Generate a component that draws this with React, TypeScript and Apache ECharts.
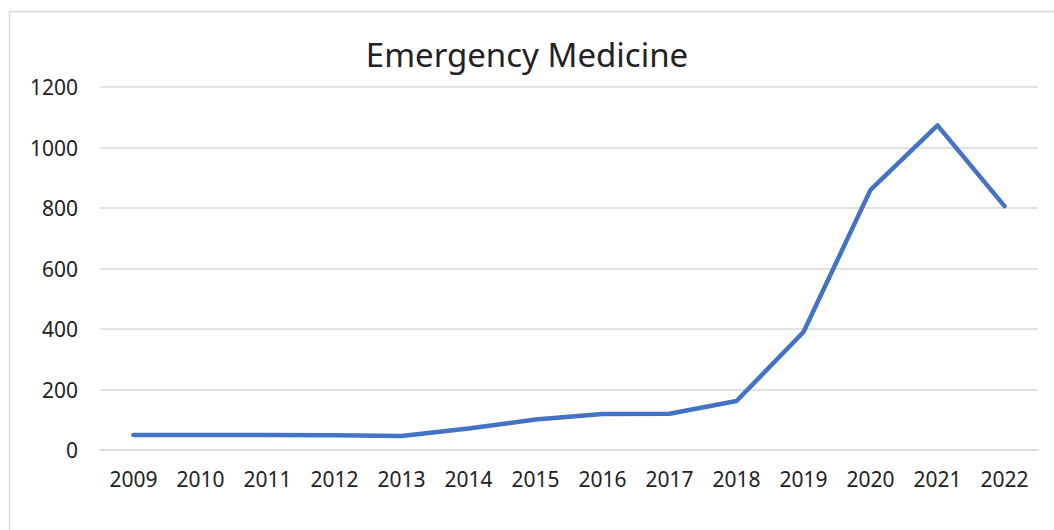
import React, { useEffect, useRef } from "react";
import * as echarts from "echarts";

const years = ["2009", "2010", "2011", "2012", "2013", "2014", "2015", "2016", "2017", "2018", "2019", "2020", "2021", "2022"];
const counts = [50, 50, 50, 49, 46, 71, 101, 119, 120, 162, 390, 860, 1073, 806];
const yTicks = { min: 0, max: 1200, interval: 200 };

const FONT = "'Noto Sans', sans-serif";

export default function App() {
  const ref = useRef<HTMLDivElement>(null);

  useEffect(() => {
    if (!ref.current) return;
    const chart = echarts.init(ref.current, null, { renderer: "svg" });
    chart.setOption({
      animation: false,
      backgroundColor: "#ffffff",
      title: {
        text: "Emergency Medicine",
        left: "center",
        top: 38,
        padding: 0,
        textStyle: { fontFamily: FONT, fontSize: 33, fontWeight: "normal", color: "#222222" },
      },
      graphic: [
        {
          type: "rect",
          shape: { x: 9.5, y: 11.5, width: 1200, height: 700 },
          style: { fill: "none", stroke: "#d9d9d9", lineWidth: 1.5 },
          silent: true,
        },
      ],
      grid: { left: 100, right: 16, top: 87, bottom: 80, containLabel: false },
      xAxis: {
        type: "category",
        data: years,
        boundaryGap: true,
        axisLine: { show: true, lineStyle: { color: "#d9d9d9", width: 1.5 } },
        axisTick: { show: false },
        axisLabel: { fontFamily: FONT, fontSize: 21, color: "#222222", margin: 18 },
      },
      yAxis: {
        type: "value",
        min: yTicks.min,
        max: yTicks.max,
        interval: yTicks.interval,
        axisLine: { show: false },
        axisTick: { show: false },
        splitLine: { lineStyle: { color: "#d9d9d9", width: 1.5 } },
        axisLabel: {
          fontFamily: FONT,
          fontSize: 21,
          color: "#222222",
          margin: 22,
          formatter: (v: number) => String(v),
        },
      },
      series: [
        {
          type: "line",
          data: counts,
          symbol: "none",
          lineStyle: { color: "#4472C4", width: 4.5, cap: "round", join: "round" },
        },
      ],
    });
    return () => chart.dispose();
  }, []);

  return (
    <div
      ref={ref}
      style={{ position: "fixed", left: 0, top: 0, width: 1054, height: 530, background: "#ffffff" }}
    />
  );
}
